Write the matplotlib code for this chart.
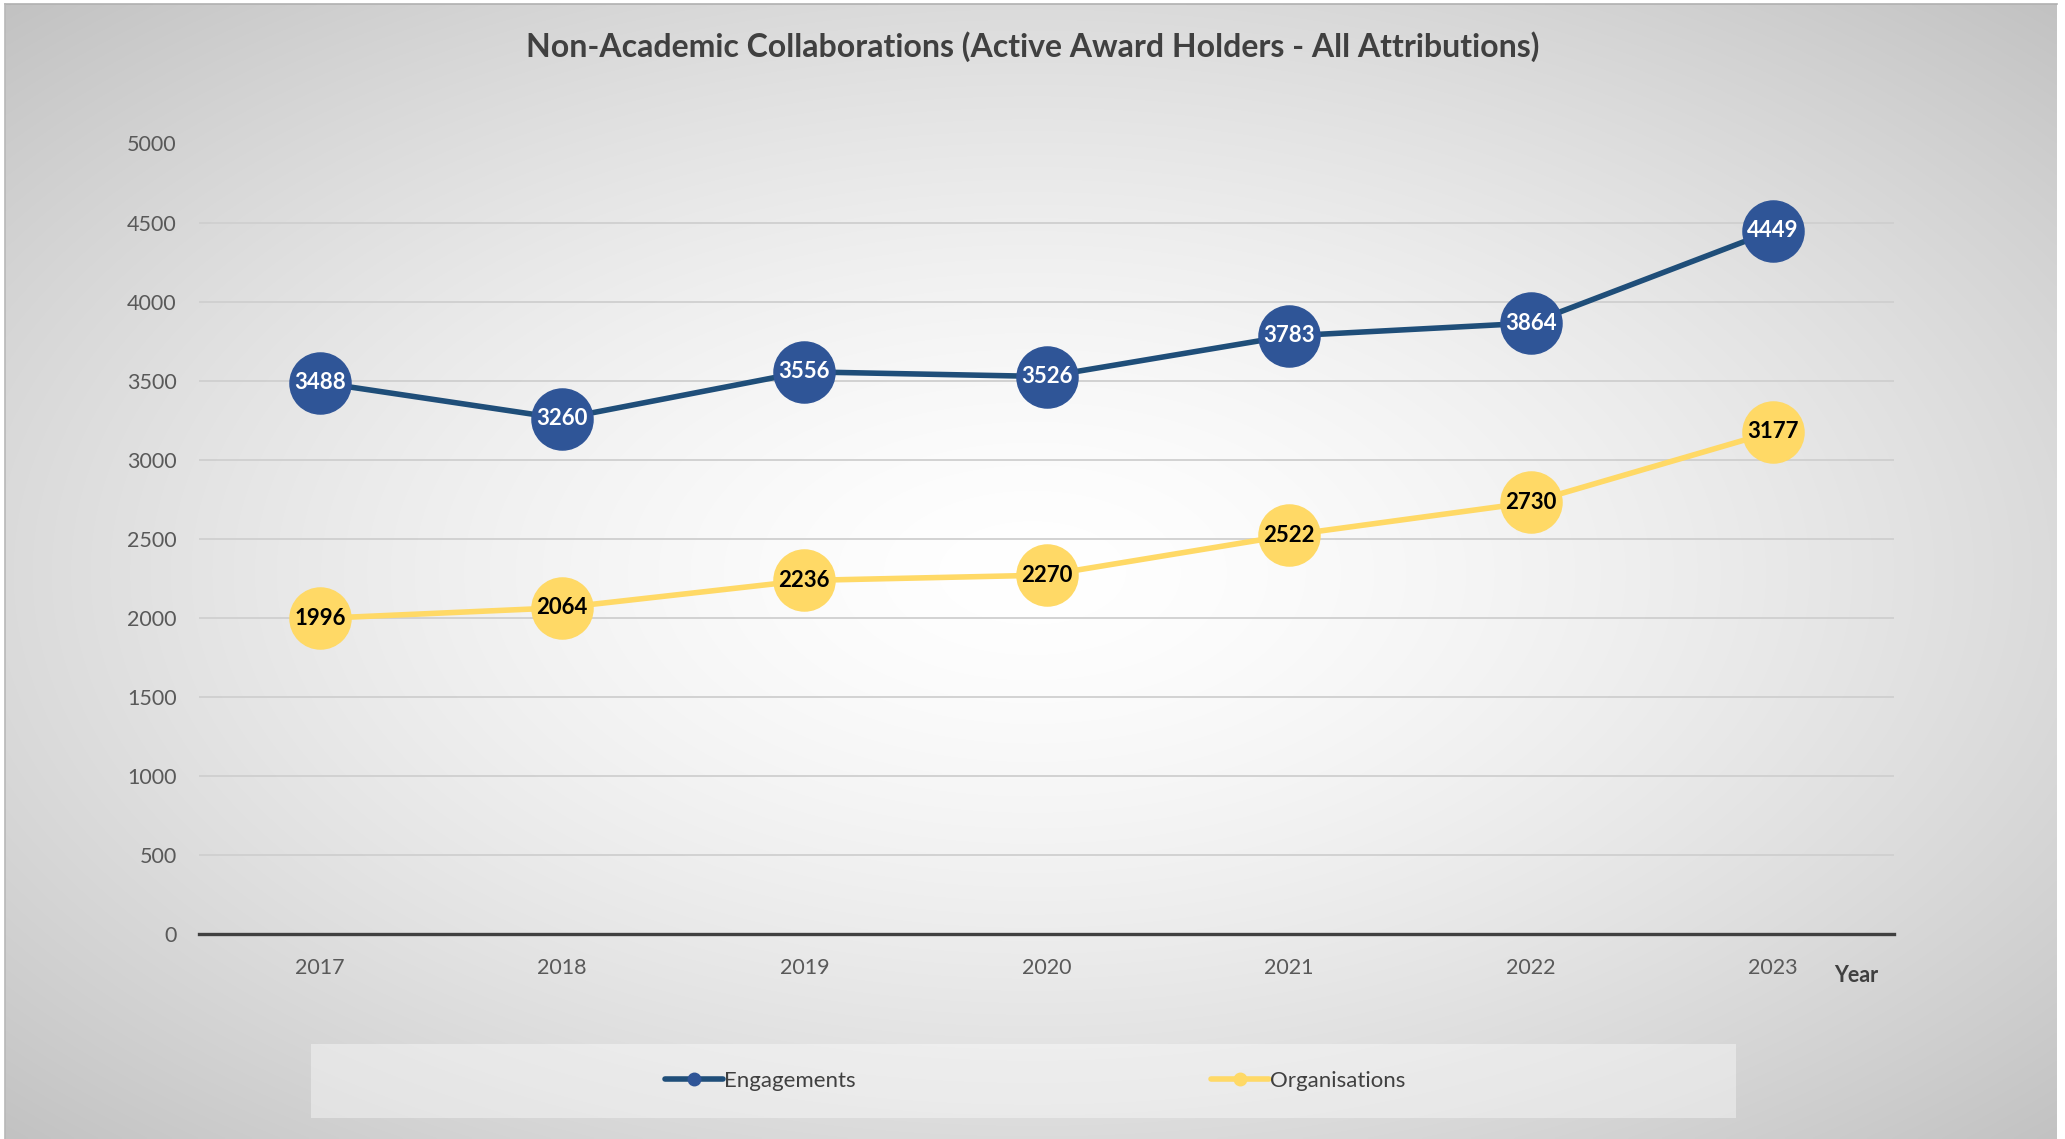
import numpy as np
import matplotlib
matplotlib.use("Agg")
import matplotlib.pyplot as plt
from matplotlib.lines import Line2D
from matplotlib.patches import Rectangle

years = ["2017", "2018", "2019", "2020", "2021", "2022", "2023"]
engagements = [3488, 3260, 3556, 3526, 3783, 3864, 4449]
organisations = [1996, 2064, 2236, 2270, 2522, 2730, 3177]
yticks = [0, 500, 1000, 1500, 2000, 2500, 3000, 3500, 4000, 4500, 5000]
title = "Non-Academic Collaborations (Active Award Holders - All Attributions)"

FONT = ["Lato", "DejaVu Sans"]
plt.rcParams["font.family"] = FONT

W, H = 2065, 1139
fig = plt.figure(figsize=(W / 100, H / 100), dpi=100)
fig.patch.set_facecolor("white")

# radial gradient background
bg = fig.add_axes([5 / W, 0, (2057 - 5) / W, (H - 4) / H])
bg.set_axis_off()
ny, nx = 400, 700
yy, xx = np.mgrid[0:ny, 0:nx]
cx, cy = nx * 0.5, ny * 0.5
r = np.sqrt(((xx - cx) / (nx * 0.5)) ** 2 + ((yy - cy) / (ny * 0.5)) ** 2) / np.sqrt(2)
r = np.clip(r, 0, 1)
lo = 0.76
val = 1.0 - (1.0 - lo) * r ** 1.5
img = np.dstack([val, val, val])
bg.imshow(img, aspect="auto", extent=[0, 1, 0, 1], interpolation="bilinear")
bg.set_xlim(0, 1)
bg.set_ylim(0, 1)
bg.plot([0, 1], [1, 1], color="#b0b0b0", lw=1.2, transform=bg.transAxes, clip_on=False)
bg.plot([0, 0], [0, 1], color="#b8b8b8", lw=1.2, transform=bg.transAxes, clip_on=False)

ax = fig.add_axes([199 / W, 205 / H, (1894 - 199) / W, (934 - 143.5) / H])
ax.set_facecolor("none")
x = np.arange(len(years))

blue_line = "#1F4E79"
blue_mk = "#2F5597"
gold = "#FFD966"

ax.plot(x, engagements, color=blue_line, lw=4, zorder=3, solid_capstyle="round")
ax.plot(x, engagements, ls="none", marker="o", markersize=44, markerfacecolor=blue_mk,
        markeredgecolor=blue_mk, zorder=4)
ax.plot(x, organisations, color=gold, lw=4, zorder=3, solid_capstyle="round")
ax.plot(x, organisations, ls="none", marker="o", markersize=44, markerfacecolor=gold,
        markeredgecolor=gold, zorder=4)

for xi, v in zip(x, engagements):
    ax.text(xi, v, f"{v}", ha="center", va="center", color="white", fontsize=16,
            fontweight="bold", zorder=5)
for xi, v in zip(x, organisations):
    ax.text(xi, v, f"{v}", ha="center", va="center", color="black", fontsize=16,
            fontweight="bold", zorder=5)

ax.set_xlim(-0.5, len(years) - 0.5)
ax.set_ylim(0, 5000)
ax.set_yticks(yticks)
ax.set_yticklabels([str(t) for t in yticks])
ax.set_xticks(x)
ax.set_xticklabels(years)
ax.tick_params(axis="both", length=0, labelsize=15.5, labelcolor="#595959")
ax.tick_params(axis="y", pad=16)
ax.tick_params(axis="x", pad=17)
ax.grid(axis="y", color="#cfcfcf", lw=1.3, zorder=0)
ax.set_axisbelow(True)
for s in ["top", "right", "left"]:
    ax.spines[s].set_visible(False)
ax.spines["bottom"].set_color("#404040")
ax.spines["bottom"].set_linewidth(2.4)
ax.spines["bottom"].set_zorder(2)

fig.text(1856 / W, 1 - 975 / H, "Year", ha="center", va="center", fontsize=15.5,
         fontweight="bold", color="#404040")
fig.text(0.5, 1 - 47 / H, title, ha="center", va="center", fontsize=23,
         fontweight="bold", color="#404040")

# legend box
fig.patches.append(Rectangle((311 / W, 1 - 1118 / H), (1736 - 311) / W, (1118 - 1044) / H,
                             transform=fig.transFigure, facecolor="white", alpha=0.4,
                             edgecolor="none", zorder=1))
handles = [Line2D([], [], color=blue_line, lw=4, marker="o", markersize=9,
                  markerfacecolor=blue_mk, markeredgecolor=blue_mk, solid_capstyle="round"),
           Line2D([], [], color=gold, lw=4, marker="o", markersize=9,
                  markerfacecolor=gold, markeredgecolor=gold, solid_capstyle="round")]
fig.legend(handles, ["Engagements", "Organisations"], loc="center",
           bbox_to_anchor=(1035 / W, 1 - 1081 / H), ncol=2, frameon=False,
           fontsize=16, handlelength=2.6, handletextpad=0.05, columnspacing=16.0,
           labelcolor="#404040")

fig.savefig("out.png", dpi=100)
